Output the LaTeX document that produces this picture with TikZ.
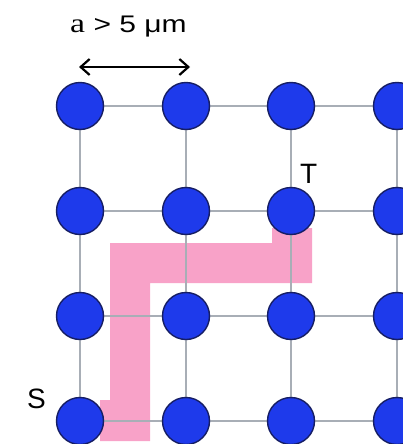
\documentclass[tikz,border=0pt]{standalone}
\usepackage{fontspec}
\setmainfont{Liberation Sans}
\newfontfamily\serifa{Liberation Serif}
\usetikzlibrary{arrows.meta}
\definecolor{dotblue}{RGB}{30,58,235}
\definecolor{dotedge}{RGB}{22,30,100}
\definecolor{gridgray}{RGB}{168,174,182}
\definecolor{pathpink}{RGB}{248,162,200}
\tikzset{
  dot/.style={circle, draw=dotedge, line width=1.4pt, fill=dotblue, minimum size=47pt, inner sep=0pt},
  gridline/.style={draw=gridgray, line width=1.8pt},
  lbl/.style={inner sep=0pt, anchor=base west, font=\fontsize{28}{30}\selectfont},
}
\begin{document}
\begin{tikzpicture}[x=1pt,y=-1pt]
\useasboundingbox (0,0) rectangle (403,444);
% pink path
\fill[pathpink] (100,400) -- (110,400) -- (110,243) -- (272,243) -- (272,228) -- (312,228) -- (312,283) -- (150,283) -- (150,441) -- (100,441) -- cycle;
% coordinates for nodes
\foreach \i/\y in {1/106,2/211,3/316,4/421}{
  \foreach \j/\x in {1/80,2/186,3/291,4/397}{
    \coordinate (c-\i-\j) at (\x,\y);
  }
  \coordinate (e-\i) at (403,\y);
}
% grid lines
\foreach \i in {1,2,3,4}{
  \draw[gridline] (c-\i-1) -- (c-\i-2) -- (c-\i-3) -- (c-\i-4) -- (e-\i);
}
\foreach \j in {1,2,3,4}{
  \draw[gridline] (c-1-\j) -- (c-2-\j) -- (c-3-\j) -- (c-4-\j);
}
% dots
\foreach \i in {1,2,3,4}{
  \foreach \j in {1,2,3,4}{
    \node[dot] (n-\i-\j) at (c-\i-\j) {};
  }
}
% labels
\node[lbl] (T) at (300,183) {T};
\node[lbl] (S) at (27,408) {S};
\node[inner sep=0pt, anchor=base west, font=\fontsize{24}{26}\selectfont] (title) at (70,33)
  {\scalebox{1.25}[1]{{\serifa\fontsize{27}{28}\selectfont a} > 5 μm}};
% arrow
\coordinate (aL) at (79,67);
\coordinate (aR) at (190,67);
\draw[line width=2.2pt, {Straight Barb[length=9pt,width=16pt]}-{Straight Barb[length=9pt,width=16pt]}] (aL) -- (aR);
\end{tikzpicture}
\end{document}
